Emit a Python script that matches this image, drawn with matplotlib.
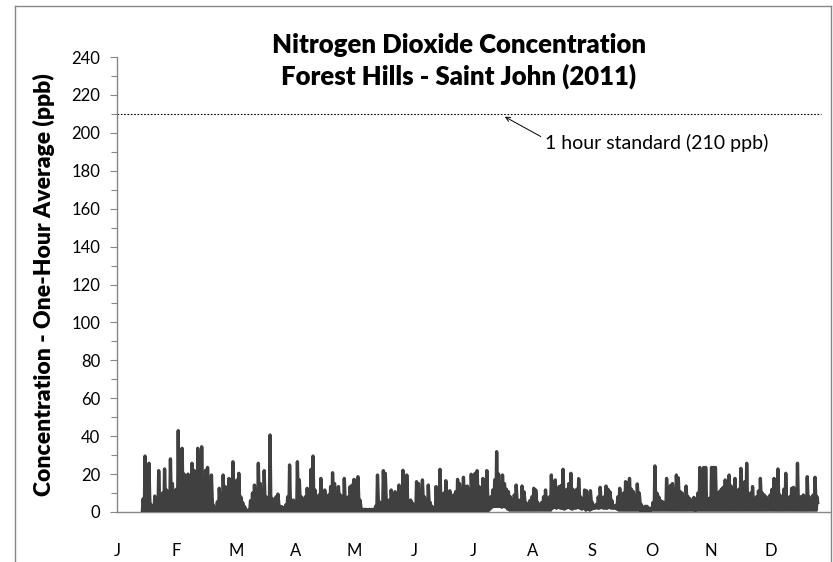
import numpy as np
import matplotlib
matplotlib.use("Agg")
import matplotlib.pyplot as plt

# ---------------- data ----------------
N = None
# daily maximum of the one-hour NO2 concentration (ppb), day 0 = Jan 1
daily_max = [
    N, N, N, N, N, N, N, N, N, N,
    N, N, N, 7, 29.5, 12, 25.7, 4, 3, 8.4,
    6, 21.8, 5, 10, 22.7, 11.6, 9, 28, 15, 8,
    12, 42.9, 10, 33.6, 20, 8, 20, 12, 25.7, 22,
    10, 33.6, 15, 34.4, 7, 22, 23.5, 12, 19.5, 3.7,
    2, 5.4, 12.5, 8, 19.5, 13.4, 9, 17.7, 8, 26.5,
    11.6, 16.9, 20.4, 8, 5, 2.8, 1, 1, 6, 10,
    14.2, 8, 25.7, 15, 8, 21.8, 8, 5, 40.6, 7.2,
    5, 8, 9.5, 3, 2.8, 2, 3.7, 8, 24.8, 4.6,
    6.3, 5, 26.5, 16.9, 8, 6.3, 8, 12.5, 5.4, 22.5,
    29.5, 11.6, 7.2, 9, 17.7, 6.3, 11.6, 7, 9, 13.4,
    20.7, 15, 10.7, 13.4, 9, 8, 17.7, 4.6, 8, 13.4,
    14.2, 17.2, 10, 18.6, 6.3, 1.4, 1.4, 1.4, 1.2, 1.4,
    1.4, 1.3, 3, 19.5, 5.4, 2.8, 21.8, 20.4, 4.6, 6.3,
    11.6, 9, 10.7, 8, 14.2, 10, 22, 14.2, 19.5, 4.6,
    6.3, 4.6, 3.7, 16, 15, 8, 16.9, 8, 6, 14.2,
    5, 2.8, 2, 13.4, 10, 22.5, 6.3, 10, 16.5, 8,
    11.2, 7.2, 9, 10.7, 17.2, 15, 12, 18.3, 13.4, 13.7,
    12, 19.9, 16, 20.4, 21.8, 13.4, 12, 17.7, 14, 21.8,
    2.8, 8, 11.6, 16.9, 31.8, 20, 10.7, 19.5, 15, 12,
    10.7, 8, 6.3, 9, 14.2, 6, 6.3, 13.7, 10.7, 5,
    2.8, 6, 8, 12.5, 11.6, 5, 3, 5, 8, 11.6,
    7, 8, 19.5, 10, 16.9, 7, 13.4, 14, 22.5, 10.7,
    12, 15, 20.4, 12, 10.7, 12, 17.6, 8, 6, 11.6,
    11.2, 8, 11.2, 5, 2.8, 4, 8, 13, 3, 8,
    13.7, 12, 10.7, 6, 3, 3.5, 8, 12.5, 9, 10,
    16, 15.5, 17.7, 12, 10.7, 8, 14.8, 10, 4, 2,
    3, 3, 2, 2, 5, 24.3, 10, 8, 6, 5.4,
    5, 17.7, 12, 14, 15, 12, 19.5, 18, 10.7, 10,
    8, 13.7, 8, 7, 4, 7.7, 2.5, 10, 23.5, 12,
    23.5, 23.5, 7.2, 7.2, 23.5, 23.5, 23.5, 9, 10.7, 12,
    13, 16.9, 14, 19.5, 13.7, 12, 17.7, 11, 12, 23,
    12, 16, 25.7, 8, 10, 13.4, 7, 8, 11, 17.7,
    10, 9, 8, 6, 9, 12, 17.7, 10, 22.7, 9,
    8, 12, 20.4, 6, 8, 12.5, 13, 9, 25.7, 8,
    8, 9, 8, 18.6, 8, 6, 9, 18.3, 8, N,
    N, N, N, N, N,
]

# daily secondary (mid-day) level of the one-hour concentration (ppb)
daily_mid = [
    N, N, N, N, N, N, N, N, N, N,
    N, N, N, 4, 8, 6, 9, 3, 2, 5,
    4, 8, 3, 6, 9, 7, 5, 10, 8, 5,
    7, 9, 6, 10, 9, 5, 8, 7, 9, 8,
    6, 10, 8, 9, 4, 9, 10, 7, 8, 2,
    1.5, 3, 6, 5, 8, 7, 5, 7, 5, 9,
    7, 8, 8, 5, 3, 1.5, 0.8, 0.8, 3, 6,
    7, 5, 9, 7, 5, 8, 5, 3, 8, 5,
    3, 5, 6, 2, 2, 1.5, 2.5, 5, 8, 3,
    4, 3, 8, 7, 5, 4, 5, 7, 3, 8,
    9, 7, 5, 6, 8, 4, 7, 5, 6, 7,
    8, 8, 7, 8, 6, 5, 8, 3, 5, 7,
    8, 8, 6, 8, 4, 1.2, 1.2, 1.2, 1.1, 1.2,
    1.2, 1.1, 2, 8, 3, 2, 9, 9, 3, 4,
    7, 6, 7, 5, 8, 6, 9, 8, 8, 3,
    4, 3, 2.5, 8, 8, 5, 8, 5, 4, 7,
    3, 2, 1.5, 7, 6, 9, 4, 6, 8, 5,
    7, 5, 6, 7, 9, 9, 8, 9, 8, 8,
    8, 10, 9, 10, 10, 8, 8, 9, 9, 10,
    2, 6, 8, 10, 12, 11, 8, 10, 9, 8,
    7, 5, 4, 6, 8, 4, 4, 8, 7, 3.5,
    2, 4, 5, 7, 7, 3.5, 2.5, 3.5, 5, 7,
    5, 5, 10, 7, 9, 5, 8, 8, 10, 7,
    8, 9, 10, 8, 7, 8, 9, 5, 4, 7,
    7, 5, 7, 3.5, 2, 3, 5, 7, 2.5, 5,
    8, 7, 7, 4, 2.5, 2.5, 5, 7, 6, 6,
    8, 8, 9, 7, 7, 5, 8, 6, 3, 1.5,
    2, 2, 1.5, 1.5, 3, 8, 6, 5, 4, 3.5,
    3.5, 8, 7, 8, 8, 7, 9, 9, 7, 6,
    5, 7, 5, 5, 3, 5, 2, 6, 9, 7,
    9, 9, 5, 5, 9, 9, 9, 6, 7, 7,
    8, 8, 8, 9, 8, 7, 8, 7, 7, 9,
    7, 8, 9, 5, 6, 7, 5, 5, 7, 8,
    6, 6, 5, 4, 6, 7, 8, 6, 9, 6,
    5, 7, 8, 4, 5, 7, 7, 6, 9, 5,
    5, 6, 5, 8, 5, 4, 6, 8, 5, N,
    N, N, N, N, N,
]

# daily minimum of the one-hour NO2 concentration (ppb)
daily_min = [
    N, N, N, N, N, N, N, N, N, N,
    N, N, N, 0.5, 0.5, 0.5, 0.5, 0.5, 0.5, 0.5,
    0.5, 0.5, 0.5, 0.5, 0.5, 0.5, 0.5, 0.5, 0.5, 0.5,
    0.5, 0.5, 0.5, 0.5, 0.5, 0.5, 0.5, 0.5, 0.5, 0.5,
    0.5, 0.5, 0.5, 0.5, 0.5, 0.5, 0.5, 0.5, 0.5, 0.5,
    0.5, 0.5, 0.5, 0.5, 0.5, 0.5, 0.5, 0.5, 0.5, 0.5,
    0.5, 0.5, 0.5, 0.5, 0.5, 0.5, 0.3, 0.3, 0.5, 0.5,
    0.5, 0.5, 0.5, 0.5, 0.5, 0.5, 0.5, 0.5, 0.5, 0.5,
    0.5, 0.5, 0.5, 0.5, 0.5, 0.5, 0.5, 0.5, 0.5, 0.5,
    0.5, 0.5, 0.5, 0.5, 0.5, 0.5, 0.5, 0.5, 0.5, 0.5,
    0.5, 0.5, 0.5, 0.5, 0.5, 0.5, 0.5, 0.5, 0.5, 0.5,
    0.5, 0.5, 0.5, 0.5, 0.5, 0.5, 0.5, 0.5, 0.5, 0.5,
    0.5, 0.5, 0.5, 0.5, 0.5, 0.8, 0.8, 0.8, 0.8, 0.8,
    0.8, 0.8, 0.8, 0.5, 0.5, 0.5, 0.5, 0.5, 0.5, 0.5,
    0.5, 0.5, 0.5, 0.5, 0.5, 0.5, 0.5, 0.5, 0.5, 0.5,
    0.5, 0.5, 0.5, 0.5, 0.5, 0.5, 0.5, 0.5, 0.5, 0.5,
    0.5, 0.5, 0.5, 0.5, 0.5, 0.5, 0.5, 0.5, 0.5, 0.5,
    0.5, 0.5, 0.5, 0.5, 0.5, 0.5, 0.5, 0.5, 0.5, 0.5,
    0.5, 0.5, 0.5, 0.5, 0.5, 0.5, 0.5, 0.5, 0.5, 0.5,
    0.5, 1.5, 2.5, 3, 3, 3, 3, 2.5, 3, 2.5,
    1.5, 1, 1, 1, 1, 1, 1, 1, 1, 1,
    1, 1, 1, 1, 1, 1, 1, 1, 1, 1,
    1, 1, 1, 2, 2.5, 2, 2.5, 2, 2, 1.5,
    2, 2.5, 2, 1.5, 2, 2, 2.5, 2, 1.5, 2,
    1, 1.5, 1, 1.5, 2, 2.5, 2, 2, 2.5, 2,
    2, 2, 2.5, 2, 2, 2, 1.5, 1, 1, 1,
    1, 1, 1, 1, 1, 1, 1, 1, 0.8, 0.8,
    0.8, 0.8, 0.8, 0.8, 1, 1, 1, 1, 1, 1,
    1, 1, 1, 1, 1, 1, 1, 1, 1, 1,
    1, 1, 1, 1, 1, 1, 0.8, 1, 1, 1,
    1, 1, 1, 1, 1, 1, 1, 1, 1, 1,
    1, 1, 1, 1, 1, 1, 1, 1, 1, 1,
    1, 1, 1, 1, 1, 1, 1, 1, 1, 1,
    1, 1, 1, 1, 1, 1, 1, 1, 1, 1,
    1, 1, 1, 1, 1, 1, 1, 1, 1, 1,
    1, 1, 1, 1, 1, 1, 1, 1, 1, N,
    N, N, N, N, N,
]

month_labels = ["J", "F", "M", "A", "M", "J", "J", "A", "S", "O", "N", "D"]
standard_value = 210
standard_label = "1 hour standard (210 ppb)"
title_text = "Nitrogen Dioxide Concentration\nForest Hills - Saint John (2011)"
ylabel_text = "Concentration - One-Hour Average (ppb)"

# ---------------- build series: each day = min -> peak -> mid ----------------
xs, ys = [], []
for d, (lo, hi, mid) in enumerate(zip(daily_min, daily_max, daily_mid)):
    xs += [d, d + 0.35, d + 0.7]
    if lo is None:
        ys += [np.nan, np.nan, np.nan]
    else:
        ys += [lo, hi, mid]
xs = np.array(xs, dtype=float)
ys = np.array(ys, dtype=float)

# ---------------- figure ----------------
FONT = "Lato"
plt.rcParams["font.family"] = [FONT, "DejaVu Sans"]

W, H = 833, 562
fig = plt.figure(figsize=(W / 100, H / 100), dpi=100)
ax = fig.add_axes([117 / W, 1 - 512 / H, (830 - 117) / W, (512 - 57) / H])

# chart border (Excel chart area)
bc = "#868686"
fig.add_artist(plt.Line2D([15 / W, 15 / W], [0, 1 - 6 / H], transform=fig.transFigure, color=bc, lw=1))
fig.add_artist(plt.Line2D([15 / W, 831 / W], [1 - 6 / H, 1 - 6 / H], transform=fig.transFigure, color=bc, lw=1))
fig.add_artist(plt.Line2D([831 / W, 831 / W], [0, 1 - 6 / H], transform=fig.transFigure, color=bc, lw=1))

ax.plot(xs, ys, color="#404040", lw=2.4, solid_joinstyle="round", zorder=3)

ax.axhline(standard_value, xmin=0, xmax=(821 - 117) / (830 - 117),
           color="black", lw=0.8, ls=(0, (1.5, 1.5)), zorder=2)

ax.annotate(standard_label, xy=(198.5, 208.5), xytext=(219, 194.5),
            fontsize=14, va="center", ha="left", color="black",
            arrowprops=dict(arrowstyle="->", color="black", lw=0.7, relpos=(0, 0.75),
                            shrinkA=1, shrinkB=0, mutation_scale=8))

ax.set_xlim(0, 365)
ax.set_ylim(0, 240)

ax.set_yticks(np.arange(0, 241, 20))
ax.set_yticks(np.arange(0, 241, 10), minor=True)
ax.tick_params(axis="y", which="both", direction="out", length=5, width=0.8,
               color=bc, labelsize=12, pad=7)
ax.tick_params(axis="y", which="minor", length=4)

month_pos = [i * 365 / 12 for i in range(12)]
ax.set_xticks(month_pos)
ax.set_xticklabels(month_labels)
ax.tick_params(axis="x", length=0, labelsize=12, pad=22)

for s in ["top", "right"]:
    ax.spines[s].set_visible(False)
for s in ["left", "bottom"]:
    ax.spines[s].set_color(bc)
    ax.spines[s].set_linewidth(1)

ax.set_ylabel(ylabel_text, fontsize=16.5, fontweight="heavy", labelpad=12)
fig.text(459 / W, 1 - 61 / H, title_text, ha="center", va="center",
         fontsize=18.5, fontweight="heavy", linespacing=1.3)

fig.savefig("out.png", dpi=100)
